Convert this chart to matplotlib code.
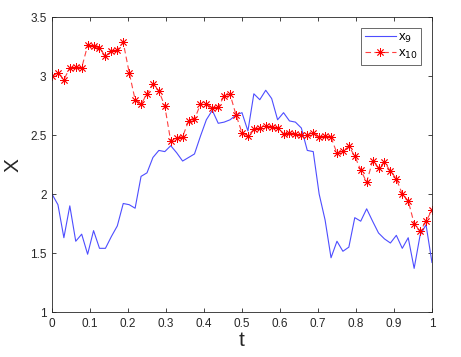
import numpy as np
import matplotlib
matplotlib.use("Agg")
import matplotlib.pyplot as plt

plt.rcParams['font.family'] = ['Liberation Sans', 'DejaVu Sans']

# time grid: 65 samples on [0, 1]
t = np.linspace(0, 1, 65)

# values
x9 = [2.00, 1.91, 1.63, 1.90, 1.60, 1.66, 1.49, 1.69, 1.54, 1.54,
      1.64, 1.73, 1.92, 1.91, 1.88, 2.15, 2.18, 2.31, 2.37, 2.36,
      2.41, 2.35, 2.28, 2.31, 2.34, 2.49, 2.63, 2.71, 2.60, 2.61,
      2.63, 2.67, 2.69, 2.535, 2.85, 2.80, 2.88, 2.81, 2.63, 2.69,
      2.62, 2.61, 2.56, 2.37, 2.36, 2.00, 1.78, 1.46, 1.60, 1.515,
      1.55, 1.80, 1.77, 1.875, 1.77, 1.67, 1.62, 1.585, 1.65, 1.54,
      1.63, 1.37, 1.65, 1.74, 1.42]

x10 = [3.00, 3.03, 2.97, 3.07, 3.08, 3.07, 3.26, 3.255, 3.235, 3.17,
       3.21, 3.22, 3.285, 3.03, 2.80, 2.76, 2.85, 2.93, 2.875, 2.745,
       2.447, 2.477, 2.486, 2.62, 2.635, 2.76, 2.76, 2.73, 2.735, 2.833,
       2.845, 2.67, 2.52, 2.494, 2.55, 2.557, 2.576, 2.57, 2.562, 2.508,
       2.52, 2.506, 2.50, 2.50, 2.52, 2.48, 2.49, 2.48, 2.347, 2.362,
       2.407, 2.32, 2.205, 2.10, 2.28, 2.22, 2.27, 2.195, 2.13, 2.00,
       1.943, 1.75, 1.686, 1.77, 1.864]

xticks = np.arange(0, 1.01, 0.1)
xticklabels = ['0', '0.1', '0.2', '0.3', '0.4', '0.5', '0.6', '0.7', '0.8', '0.9', '1']
yticks = [1, 1.5, 2, 2.5, 3, 3.5]
yticklabels = ['1', '1.5', '2', '2.5', '3', '3.5']

axcol = (0.15, 0.15, 0.15)

fig = plt.figure(figsize=(4.61, 3.57), dpi=100)
ax = fig.add_axes([0.1128, 0.126, 0.8242, 0.826])

ax.plot(t, x9, color=(0.3, 0.3, 1.0), lw=0.8, label='x$_{9}$')
ax.plot(t, x10, color=(1.0, 0.25, 0.25), lw=0.8, ls=(0, (5, 3)),
        marker=(8, 2, 0), ms=6, mew=0.6, mec='red', mfc='red',
        label='x$_{10}$')

ax.set_xlim(0, 1)
ax.set_ylim(1, 3.5)
ax.set_xticks(xticks)
ax.set_xticklabels(xticklabels)
ax.set_yticks(yticks)
ax.set_yticklabels(yticklabels)
ax.tick_params(direction='in', top=True, right=True, length=3, pad=4,
               labelsize=8.5, colors=axcol, width=0.6)
for s in ax.spines.values():
    s.set_color(axcol)
    s.set_linewidth(0.6)

ax.set_xlabel('t', fontsize=15, color=axcol, labelpad=1)
ax.set_ylabel('X', fontsize=15, color=axcol, labelpad=5)

leg = ax.legend(loc='upper right', fontsize=9.5, frameon=True, fancybox=False,
                edgecolor=axcol, handlelength=2.3, borderpad=0.3,
                labelspacing=0.2, handletextpad=0.15, borderaxespad=0.8)
leg.get_frame().set_linewidth(0.6)

fig.savefig('out.png', dpi=100)
